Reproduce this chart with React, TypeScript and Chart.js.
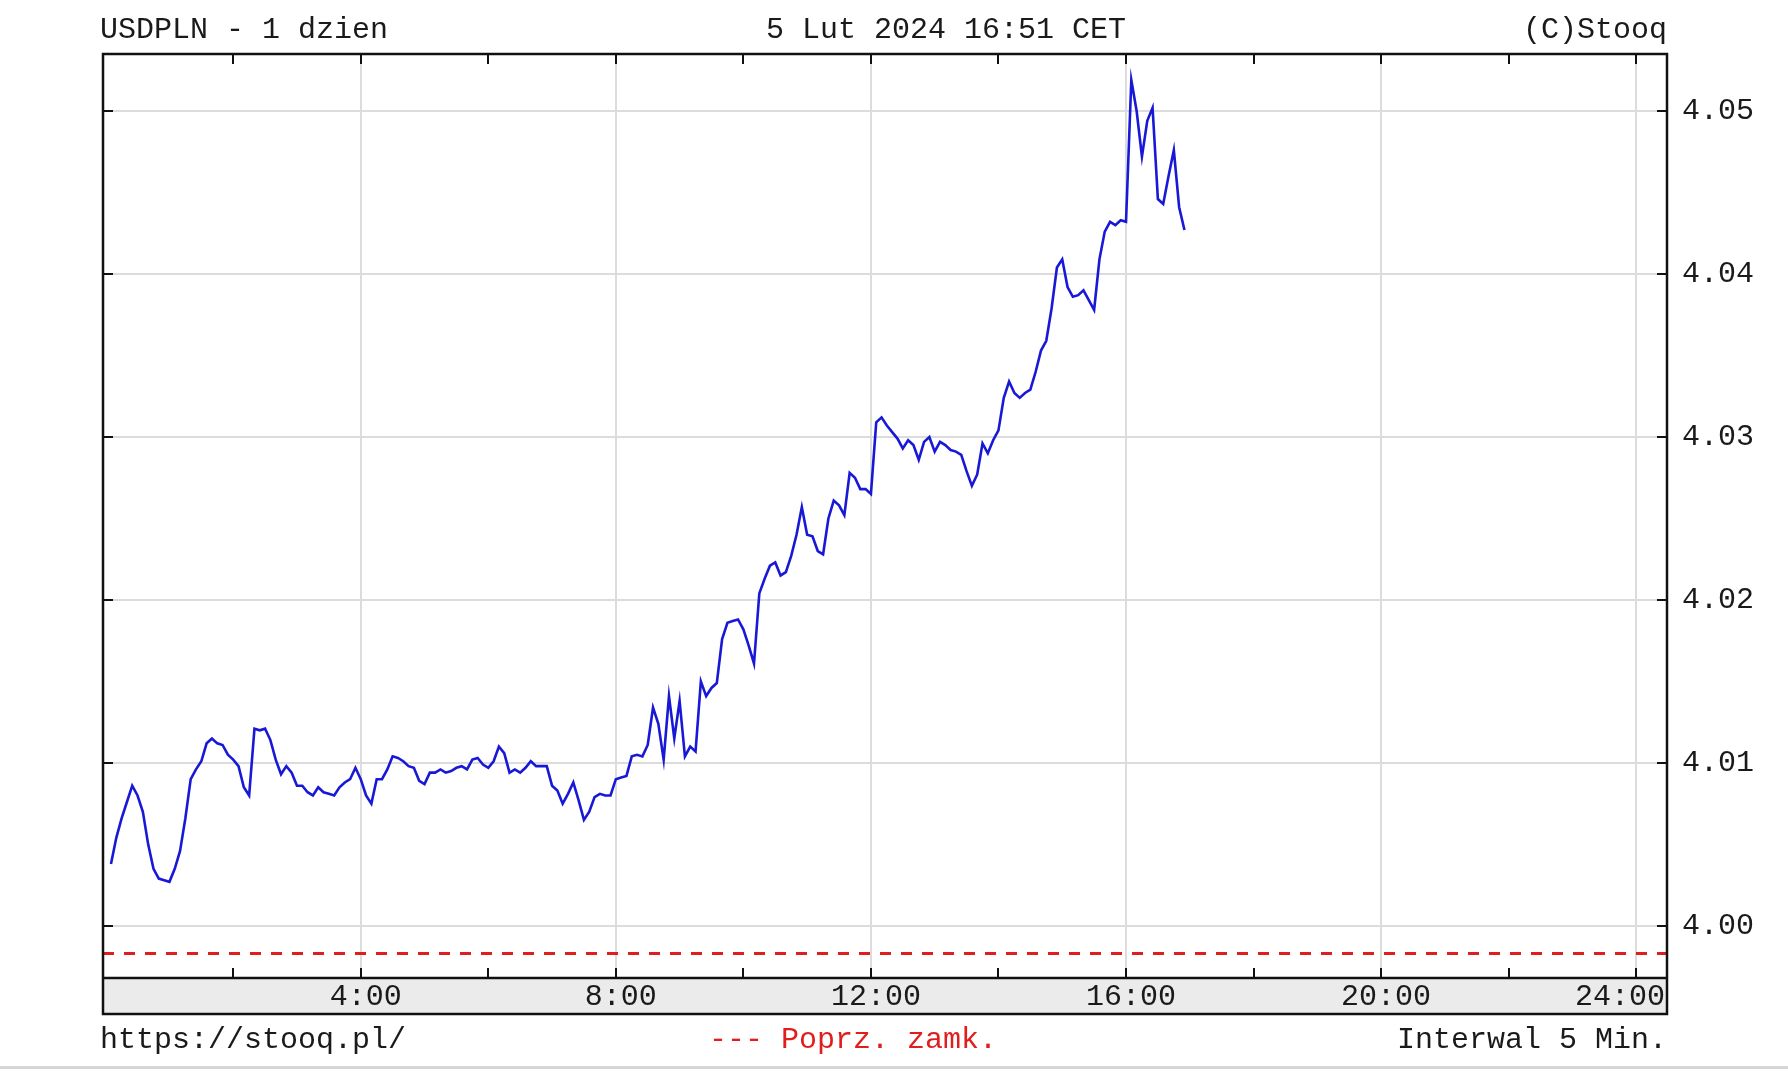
import { useEffect, useRef } from 'react';
import { Chart, registerables } from 'chart.js';

Chart.register(...registerables);

// USDPLN 5-minute quotes, 5 Feb 2024, first bar at 0:05
const firstMinute = 5;
const stepMinutes = 5;

// 0:05 - 4:00
const night = [
  4.0038, 4.0054, 4.0066, 4.0076, 4.0086, 4.0080, 4.0070, 4.0050, 4.0035, 4.0029, 4.0028, 4.0027,
  4.0035, 4.0046, 4.0066, 4.0090, 4.0096, 4.0101, 4.0112, 4.0115, 4.0112, 4.0111, 4.0105, 4.0102,
  4.0098, 4.0085, 4.0080, 4.0121, 4.0120, 4.0121, 4.0114, 4.0102, 4.0093, 4.0098, 4.0094, 4.0086,
  4.0086, 4.0082, 4.0080, 4.0085, 4.0082, 4.0081, 4.0080, 4.0085, 4.0088, 4.0090, 4.0097, 4.0090,
];
// 4:05 - 8:00
const morning = [
  4.0080, 4.0075, 4.0090, 4.0090, 4.0096, 4.0104, 4.0103, 4.0101, 4.0098, 4.0097, 4.0089, 4.0087,
  4.0094, 4.0094, 4.0096, 4.0094, 4.0095, 4.0097, 4.0098, 4.0096, 4.0102, 4.0103, 4.0099, 4.0097,
  4.0101, 4.0110, 4.0106, 4.0094, 4.0096, 4.0094, 4.0097, 4.0101, 4.0098, 4.0098, 4.0098, 4.0086,
  4.0083, 4.0075, 4.0081, 4.0088, 4.0077, 4.0065, 4.0070, 4.0079, 4.0081, 4.0080, 4.0080, 4.0090,
];
// 8:05 - 12:00
const midday = [
  4.0091, 4.0092, 4.0104, 4.0105, 4.0104, 4.0111, 4.0134, 4.0124, 4.0102, 4.0141, 4.0115, 4.0138,
  4.0104, 4.0110, 4.0107, 4.0150, 4.0141, 4.0146, 4.0149, 4.0176, 4.0186, 4.0187, 4.0188, 4.0182,
  4.0172, 4.0161, 4.0204, 4.0213, 4.0221, 4.0223, 4.0215, 4.0217, 4.0227, 4.0240, 4.0257, 4.0240,
  4.0239, 4.0230, 4.0228, 4.0250, 4.0261, 4.0258, 4.0252, 4.0278, 4.0275, 4.0268, 4.0268, 4.0265,
];
// 12:05 - 16:55
const afternoon = [
  4.0309, 4.0312, 4.0307, 4.0303, 4.0299, 4.0293, 4.0298, 4.0295, 4.0286, 4.0297, 4.0300, 4.0291,
  4.0297, 4.0295, 4.0292, 4.0291, 4.0289, 4.0279, 4.0270, 4.0277, 4.0296, 4.0290, 4.0298, 4.0304,
  4.0324, 4.0334, 4.0327, 4.0324, 4.0327, 4.0329, 4.0340, 4.0353, 4.0359, 4.0379, 4.0404, 4.0409,
  4.0392, 4.0386, 4.0387, 4.0390, 4.0384, 4.0378, 4.0409, 4.0426, 4.0432, 4.0430, 4.0433, 4.0432,
  4.0519, 4.0500, 4.0472, 4.0494, 4.0502, 4.0446, 4.0443, 4.0460, 4.0476, 4.0441, 4.0427,
];

const prevClose = 3.9983;

const yTicks = [4.0, 4.01, 4.02, 4.03, 4.04, 4.05];
const yMin = 3.9968;
const yMax = 4.0535;

const xTickHours = [2, 4, 6, 8, 10, 12, 14, 16, 18, 20, 22, 24];
const xLabelHours = [4, 8, 12, 16, 20, 24];
const xMinMinutes = -2.5;
const xMaxMinutes = 1469;

const FONT = '"Liberation Mono", "DejaVu Sans Mono", monospace';
const W = 1788;
const H = 1074;

const framePlugin = {
  id: 'stooqFrame',
  afterDraw(chart: any) {
    const { ctx, chartArea: a, scales } = chart;
    const x = scales.x;
    const y = scales.y;
    const stripBottom = x.bottom;
    ctx.save();

    // grey strip holding the time labels
    ctx.fillStyle = '#ebebeb';
    ctx.fillRect(a.left, a.bottom, a.right - a.left, stripBottom - a.bottom);

    // inward tick marks
    ctx.strokeStyle = '#111';
    ctx.lineWidth = 2;
    ctx.beginPath();
    for (const h of xTickHours) {
      const px = Math.round(x.getPixelForValue(h * 60));
      ctx.moveTo(px, a.top);
      ctx.lineTo(px, a.top + 10);
      ctx.moveTo(px, a.bottom);
      ctx.lineTo(px, a.bottom - 10);
    }
    for (const v of yTicks) {
      const py = Math.round(y.getPixelForValue(v));
      ctx.moveTo(a.left, py);
      ctx.lineTo(a.left + 10, py);
      ctx.moveTo(a.right, py);
      ctx.lineTo(a.right - 10, py);
    }
    ctx.stroke();

    // frame
    ctx.lineWidth = 2.5;
    ctx.strokeRect(a.left, a.top, a.right - a.left, stripBottom - a.top);
    ctx.beginPath();
    ctx.moveTo(a.left, a.bottom);
    ctx.lineTo(a.right, a.bottom);
    ctx.stroke();

    // time labels, the last one kept inside the frame
    ctx.font = `30px ${FONT}`;
    ctx.fillStyle = '#1a1a1a';
    ctx.textAlign = 'center';
    ctx.textBaseline = 'middle';
    for (const h of xLabelHours) {
      const label = `${h}:00`;
      const w = ctx.measureText(label).width;
      const px = Math.min(x.getPixelForValue(h * 60) + 5, a.right - 2 - w / 2);
      ctx.fillText(label, px, (a.bottom + stripBottom) / 2 + 1);
    }
    ctx.restore();
  },
};

const textStyle: React.CSSProperties = {
  position: 'absolute',
  fontFamily: FONT,
  fontSize: 30,
  lineHeight: '30px',
  whiteSpace: 'pre',
  color: '#1a1a1a',
};

export default function App() {
  const canvasRef = useRef<HTMLCanvasElement>(null);

  useEffect(() => {
    const canvas = canvasRef.current;
    if (!canvas) return;
    const quotes = [...night, ...morning, ...midday, ...afternoon];
    const chart = new Chart(canvas, {
      type: 'line',
      data: {
        datasets: [
          {
            label: 'USDPLN',
            data: quotes.map((v, i) => ({ x: firstMinute + i * stepMinutes, y: v })),
            borderColor: 'rgb(24, 24, 214)',
            borderWidth: 2.6,
            pointRadius: 0,
            tension: 0,
          },
          {
            label: 'Poprz. zamk.',
            data: [
              { x: xMinMinutes, y: prevClose },
              { x: xMaxMinutes, y: prevClose },
            ],
            borderColor: 'rgb(224, 30, 30)',
            borderWidth: 3,
            borderDash: [11, 10],
            pointRadius: 0,
          },
        ],
      },
      options: {
        animation: false,
        responsive: false,
        devicePixelRatio: 1,
        layout: { padding: { left: 103, top: 54, right: 0, bottom: 60 } },
        plugins: {
          legend: { display: false },
          tooltip: { enabled: false },
        },
        scales: {
          x: {
            type: 'linear',
            min: xMinMinutes,
            max: xMaxMinutes,
            afterBuildTicks: (s: any) => {
              s.ticks = xLabelHours.map((h) => ({ value: h * 60 }));
            },
            afterFit: (s: any) => {
              s.height = 36;
            },
            ticks: { display: false },
            grid: { color: '#dcdcdc', lineWidth: 2, drawTicks: false },
            border: { display: false },
          },
          y: {
            type: 'linear',
            position: 'right',
            min: yMin,
            max: yMax,
            afterBuildTicks: (s: any) => {
              s.ticks = yTicks.map((v) => ({ value: v }));
            },
            afterFit: (s: any) => {
              s.width = W - 1667;
            },
            ticks: {
              padding: 15,
              color: '#1a1a1a',
              font: { family: FONT, size: 30 },
              callback: (v: any) => Number(v).toFixed(2),
            },
            grid: { color: '#dcdcdc', lineWidth: 2, drawTicks: false },
            border: { display: false },
          },
        },
      },
      plugins: [framePlugin],
    });
    return () => chart.destroy();
  }, []);

  return (
    <div style={{ position: 'absolute', left: 0, top: 0, width: W, height: H, background: '#fff' }}>
      <canvas ref={canvasRef} width={W} height={H} style={{ position: 'absolute', left: 0, top: 0 }} />
      <div style={{ ...textStyle, left: 100, top: 15 }}>USDPLN - 1 dzien</div>
      <div style={{ ...textStyle, left: 946, top: 15, transform: 'translateX(-50%)' }}>5 Lut 2024 16:51 CET</div>
      <div style={{ ...textStyle, right: W - 1667, top: 15 }}>(C)Stooq</div>
      <div style={{ ...textStyle, left: 100, top: 1025 }}>https://stooq.pl/</div>
      <div style={{ ...textStyle, left: 853, top: 1025, transform: 'translateX(-50%)', color: 'rgb(224, 30, 30)' }}>
        --- Poprz. zamk.
      </div>
      <div style={{ ...textStyle, right: W - 1667, top: 1025 }}>Interwal 5 Min.</div>
      <div style={{ position: 'absolute', left: 0, top: 1066, width: W, height: 3, background: '#d6d6d6' }} />
    </div>
  );
}
